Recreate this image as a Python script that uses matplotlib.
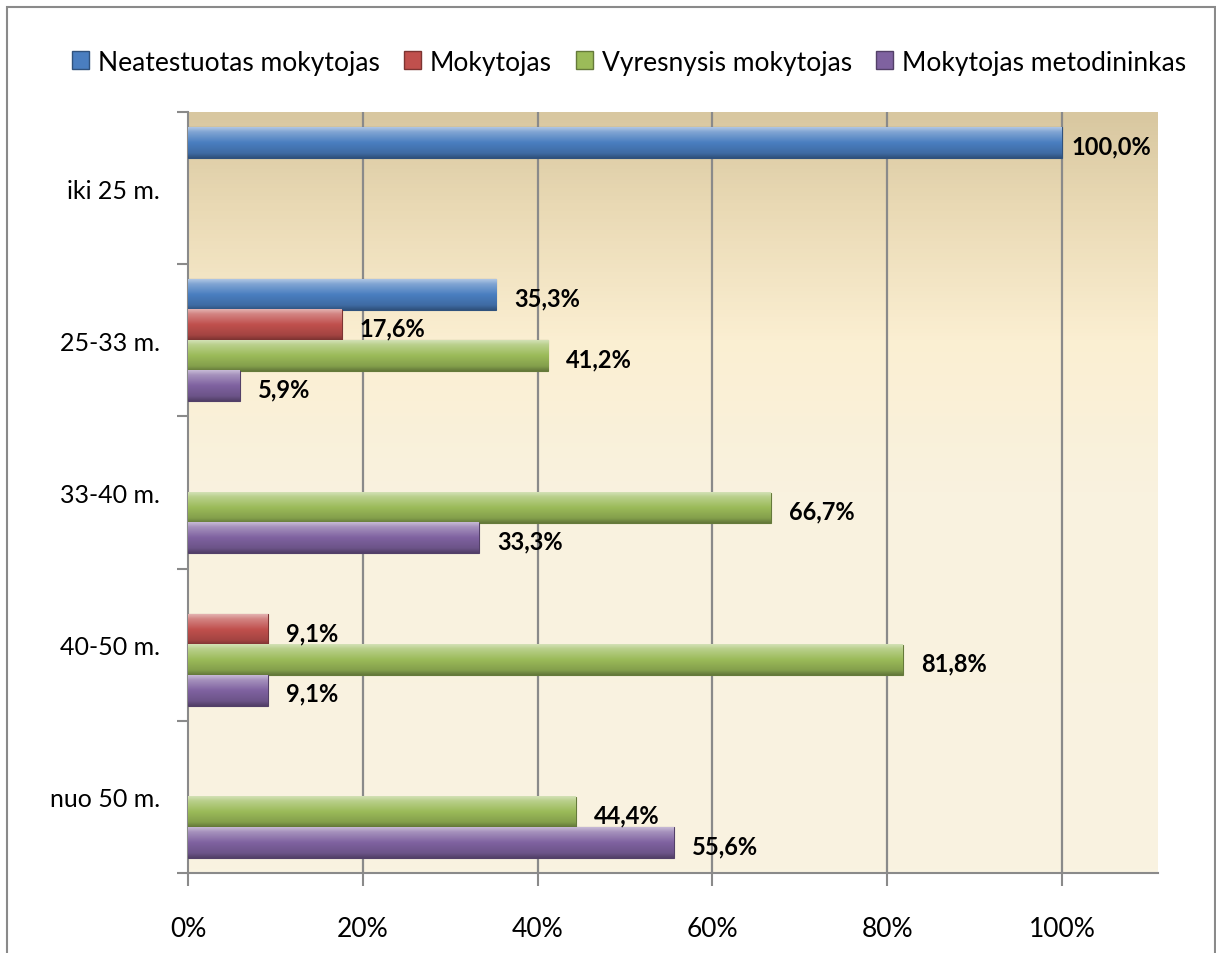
import numpy as np
import matplotlib
matplotlib.use('Agg')
import matplotlib.pyplot as plt
from matplotlib.colors import to_rgb
from matplotlib.patches import Rectangle, Patch
from matplotlib.transforms import ScaledTranslation

plt.rcParams['font.family'] = ['Lato', 'DejaVu Sans']

categories = ['iki 25 m.', '25-33 m.', '33-40 m.', '40-50 m.', 'nuo 50 m.']
series = ['Neatestuotas mokytojas', 'Mokytojas', 'Vyresnysis mokytojas', 'Mokytojas metodininkas']
colors = ['#4A7EC0', '#C0504D', '#9BBB59', '#7F62A0']
# values in %, None = no bar
neatestuotas = [100.0, 35.3, None, None, None]
mokytojas = [None, 17.6, None, 9.1, None]
vyresnysis = [None, 41.2, 66.7, 81.8, 44.4]
metodininkas = [None, 5.9, 33.3, 9.1, 55.6]
values = [neatestuotas, mokytojas, vyresnysis, metodininkas]
xticks = [0, 20, 40, 60, 80, 100]


def mix(c, other, t):
    c = np.array(to_rgb(c))
    return tuple(c * (1 - t) + np.array(other) * t)


def bar_gradient(c):
    stops = [(0.0, mix(c, (1, 1, 1), 0.55)), (0.15, mix(c, (1, 1, 1), 0.3)),
             (0.5, mix(c, (0, 0, 0), 0.0)), (0.85, mix(c, (0, 0, 0), 0.15)),
             (1.0, mix(c, (0, 0, 0), 0.35))]
    pos = np.linspace(0, 1, 40)
    rgb = np.zeros((40, 1, 3))
    for k in range(3):
        rgb[:, 0, k] = np.interp(pos, [s[0] for s in stops], [s[1][k] for s in stops])
    return rgb


fig = plt.figure(figsize=(12.16, 9.54), dpi=100)
ax = fig.add_axes([188 / 1216, 1 - 874 / 954, 970 / 1216, 761 / 954])

xmax = 111
ax.set_xlim(0, xmax)
ax.set_ylim(len(categories) - 0.5, -0.5)

# background gradient (tan at top -> cream)
bg_pos = [0.0, 0.12, 0.3, 0.5, 1.0]
bg_cols = ['#D8C7A0', '#E9D9B4', '#FBEFD2', '#F9F2DF', '#F9F3E1']
p = np.linspace(0, 1, 200)
bg = np.zeros((200, 1, 3))
for k in range(3):
    bg[:, 0, k] = np.interp(p, bg_pos, [to_rgb(c)[k] for c in bg_cols])
ax.imshow(bg, extent=(0, xmax, len(categories) - 0.5, -0.5), aspect='auto',
          origin='upper', zorder=0)

for x in xticks[1:]:
    ax.axvline(x, color='#8A8A8A', lw=1.6, zorder=1)

h = 0.2
y = np.arange(len(categories))
for j, (vals, c) in enumerate(zip(values, colors)):
    grad = bar_gradient(c)
    for i, v in enumerate(vals):
        if v is None:
            continue
        yc = y[i] + (j - 1.5) * h
        bars = ax.barh(yc, v, height=h, color=c, edgecolor=mix(c, (0, 0, 0), 0.35),
                       lw=0.8, zorder=3)
        b = bars[0]
        ax.imshow(grad, extent=(b.get_x(), b.get_x() + b.get_width(),
                                b.get_y() + b.get_height(), b.get_y()),
                  aspect='auto', origin='upper', zorder=4)
        off = 10 if v >= 100 else 18
        ax.text(v, yc + 0.02, f'{v:.1f}%'.replace('.', ','), ha='left', va='center',
                fontsize=17, fontweight='bold', color='black', zorder=5,
                transform=ax.transData + ScaledTranslation(off / 100, 0, fig.dpi_scale_trans))

ax.set_xticks(xticks)
ax.set_xticklabels([f'{x}%' for x in xticks], fontsize=19)
ax.set_yticks(y)
ax.set_yticklabels(categories, fontsize=18)
ax.set_yticks(np.arange(len(categories) + 1) - 0.5, minor=True)
ax.tick_params(axis='y', which='major', length=0, pad=20)
ax.tick_params(axis='y', which='minor', length=8, width=1.5, color='#8A8A8A')
ax.tick_params(axis='x', length=9, width=1.5, color='#8A8A8A', pad=22)
for s in ['top', 'right']:
    ax.spines[s].set_visible(False)
for s in ['left', 'bottom']:
    ax.spines[s].set_color('#8A8A8A')
    ax.spines[s].set_linewidth(1.5)

handles = [Patch(facecolor=c, edgecolor=mix(c, (0, 0, 0), 0.35)) for c in colors]
fig.legend(handles, series, loc='center', bbox_to_anchor=(629 / 1216, 1 - 63 / 954),
           ncol=4, frameon=False, fontsize=19, handlelength=0.65, handleheight=0.65,
           handletextpad=0.35, columnspacing=0.9)

# chart border
fig.patches.append(Rectangle((7 / 1216, -0.05), (1215 - 7) / 1216, 1 - 8 / 954 + 0.05,
                             transform=fig.transFigure, fill=False,
                             edgecolor='#8A8A8A', lw=1.5))

fig.savefig('out.png', dpi=100)
